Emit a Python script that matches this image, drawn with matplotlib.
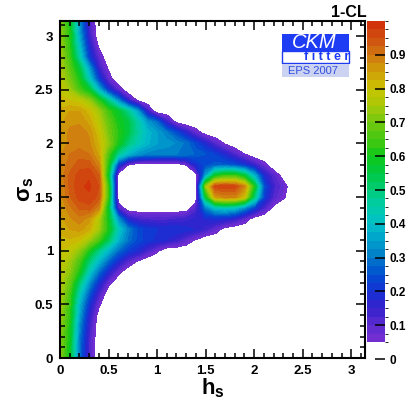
import numpy as np
import matplotlib
matplotlib.use("Agg")
import matplotlib.pyplot as plt
from matplotlib.colors import LinearSegmentedColormap, ListedColormap, BoundaryNorm
from matplotlib.cm import ScalarMappable
from matplotlib.patches import Rectangle
from matplotlib.ticker import MultipleLocator

plt.rcParams['font.family'] = ['Liberation Sans', 'DejaVu Sans']
plt.rcParams['mathtext.fontset'] = 'custom'
plt.rcParams['mathtext.rm'] = 'Liberation Sans'
plt.rcParams['mathtext.bf'] = 'Liberation Sans:bold'
plt.rcParams['mathtext.it'] = 'Liberation Sans:italic'

# sampling grid (h_s columns, sigma_s rows)
h_grid = np.arange(25) / 10.0       # 0.0 .. 2.4
sigma_grid = np.arange(33) / 10.0   # 0.0 .. 3.2

# 1-CL in percent, one row per sigma_s value, trailing zeros omitted
one_minus_cl = [
    [71, 58, 28, 11, 0],                                   # 0.0
    [72, 58, 29, 11, 0],                                   # 0.1
    [72, 59, 30, 12, 0],                                   # 0.2
    [73, 60, 32, 14, 0],                                   # 0.3
    [74, 62, 35, 16, 2],                                   # 0.4
    [75, 63, 38, 20, 6],                                   # 0.5
    [76, 65, 43, 26, 12],                                  # 0.6
    [77, 68, 50, 33, 19, 7],                               # 0.7
    [78, 72, 60, 42, 28, 17, 7],                           # 0.8
    [79, 74, 65, 50, 38, 27, 18, 10, 4],                   # 0.9
    [80, 78, 72, 60, 48, 38, 28, 22, 18, 12, 6],           # 1.0
    [82, 82, 80, 74, 65, 52, 38, 29, 24, 21, 19, 17, 14, 9, 4],          # 1.1
    [83, 85, 86, 83, 74, 60, 42, 31, 24, 21, 20, 20, 20, 19, 17, 13, 8, 2],  # 1.2
    [84, 87, 89, 86, 76, 58, 32, 16, 12, 11, 11, 11, 12, 13, 16, 18, 19, 18, 15, 9, 2],  # 1.3
    [85, 89, 93, 94, 88, 55, 10, 0, 0, 0, 0, 0, 0, 0, 10, 30, 40, 42, 40, 32, 22, 12, 3],  # 1.4
    [86, 92, 96, 97, 94, 62, 0, 0, 0, 0, 0, 0, 0, 0, 0, 55, 85, 88, 88, 80, 50, 22, 11, 6],  # 1.5
    [87, 93, 97, 98, 95, 62, 0, 0, 0, 0, 0, 0, 0, 0, 0, 72, 96, 97, 96, 88, 60, 25, 13, 8],  # 1.6
    [88, 93, 96, 97, 93, 55, 0, 0, 0, 0, 0, 0, 0, 0, 0, 35, 58, 64, 64, 56, 38, 18, 10, 2],  # 1.7
    [88, 91, 94, 94, 88, 60, 20, 5, 0, 0, 0, 0, 0, 5, 18, 24, 26, 26, 24, 20, 14, 7],  # 1.8
    [87, 90, 91, 90, 84, 65, 47, 38, 33, 31, 30, 30, 30, 29, 27, 25, 22, 17, 11, 5],  # 1.9
    [86, 88, 89, 88, 82, 72, 60, 50, 43, 38, 35, 34, 32, 29, 23, 17, 10, 4],  # 2.0
    [85, 88, 89, 87, 80, 70, 62, 55, 46, 39, 35, 30, 24, 16, 8, 2],        # 2.1
    [84, 87, 87, 84, 77, 68, 60, 55, 45, 34, 28, 14, 3],   # 2.2
    [83, 85, 85, 81, 74, 64, 57, 48, 35, 14],              # 2.3
    [81, 80, 78, 73, 62, 48, 32, 15, 4],                   # 2.4
    [79, 74, 65, 57, 38, 20, 9],                           # 2.5
    [77, 70, 60, 42, 22, 8],                               # 2.6
    [76, 67, 55, 35, 14, 4],                               # 2.7
    [75, 64, 45, 22, 9],                                   # 2.8
    [74, 62, 40, 18, 4],                                   # 2.9
    [73, 61, 36, 14],                                      # 3.0
    [72, 60, 33, 12],                                      # 3.1
    [72, 60, 33, 12],                                      # 3.2
]

# palette anchors (ROOT-like rainbow)
palette_values = [0.0, 0.05, 0.1, 0.15, 0.2, 0.25, 0.3, 0.35, 0.4, 0.45, 0.5,
                  0.55, 0.6, 0.65, 0.7, 0.75, 0.8, 0.85, 0.9, 0.95, 1.0]
palette_colors = ['#7a30d2', '#7a30d2', '#5a2ad0', '#3522cc', '#1530d4', '#0050d0',
                  '#0078c8', '#00a0cc', '#00c0c8', '#00ccaa', '#00cc78', '#00c845',
                  '#10c818', '#45c812', '#70c810', '#a8c808', '#c8c400', '#d0a008',
                  '#d07810', '#d05010', '#d42a0a']

grid = np.zeros((len(sigma_grid), len(h_grid)))
for i, row in enumerate(one_minus_cl):
    grid[i, :len(row)] = row
grid = grid / 100.0

rainbow = LinearSegmentedColormap.from_list("ckm", list(zip(palette_values, palette_colors)))
levels = np.arange(0.05, 1.0001, 0.025)
band_colors = [rainbow((a + b) / 2) for a, b in zip(levels[:-1], levels[1:])]
band_cmap = ListedColormap(band_colors)
band_norm = BoundaryNorm(levels, len(band_colors))

fig = plt.figure(figsize=(4.1, 4.01), dpi=100)
ax = fig.add_axes([0.1463, 0.1072, 0.7439, 0.8404])
cax = fig.add_axes([0.8951, 0.1047, 0.0451, 0.8429])

cs = ax.contourf(h_grid, sigma_grid, grid, levels=levels, cmap=band_cmap, norm=band_norm)
cs.set_edgecolor('face')
cs.set_linewidth(0.3)

ax.set_xlim(0, np.pi)
ax.set_ylim(0, np.pi)
for axis in (ax.xaxis, ax.yaxis):
    axis.set_major_locator(MultipleLocator(0.5))
    axis.set_minor_locator(MultipleLocator(0.1))
    axis.set_major_formatter(lambda v, p: f"{v:g}")
ax.tick_params(which='both', direction='in', top=True, right=True, width=1.1,
               labelsize=9.5, pad=5)
ax.tick_params(which='major', length=6.5)
ax.tick_params(which='minor', length=3.5)
for lab in ax.get_xticklabels() + ax.get_yticklabels():
    lab.set_fontweight('bold')
for sp in ax.spines.values():
    sp.set_linewidth(1.5)

ax.set_xlabel(r'$\mathbf{h_s}$', fontsize=16)
ax.xaxis.set_label_coords(0.5, -0.055)
ax.set_ylabel(r'$\mathbf{\sigma_s}$', fontsize=16)
ax.yaxis.set_label_coords(-0.08, 0.5)

# colour scale 0..1, white below 0.05
scale_bounds = np.concatenate([[0.0], levels])
scale_cmap = ListedColormap(['white'] + band_colors)
scale_norm = BoundaryNorm(scale_bounds, len(scale_bounds) - 1)
cbar = fig.colorbar(ScalarMappable(norm=scale_norm, cmap=scale_cmap), cax=cax,
                    spacing='proportional')
cbar.outline.set_visible(False)
cbar.set_ticks([0, 0.1, 0.2, 0.3, 0.4, 0.5, 0.6, 0.7, 0.8, 0.9])
cbar.set_ticklabels(['0', '0.1', '0.2', '0.3', '0.4', '0.5', '0.6', '0.7', '0.8', '0.9'])
cax.tick_params(axis='y', direction='in', length=7, width=1.1, labelsize=8.5, pad=3)
for lab in cax.get_yticklabels():
    lab.set_fontweight('bold')
fig.text(0.893, 0.969, '1-CL', ha='right', va='center', fontsize=11.5, fontweight='bold')

# CKMfitter logo
blue = '#1f3cf5'
fig.add_artist(Rectangle((0.688, 0.873), 0.163, 0.0424, transform=fig.transFigure,
                         facecolor=blue, edgecolor='none', zorder=5))
fig.add_artist(Rectangle((0.688, 0.843), 0.163, 0.030, transform=fig.transFigure,
                         facecolor='white', edgecolor=blue, linewidth=1.0, zorder=5))
fig.add_artist(Rectangle((0.688, 0.808), 0.163, 0.0324, transform=fig.transFigure,
                         facecolor='#ccd2f2', edgecolor='none', zorder=5))
fig.text(0.766, 0.894, 'CKM', ha='center', va='center', color='white',
         fontsize=14.5, style='italic', zorder=6)
fig.text(0.796, 0.858, 'f i t t e r', ha='center', va='center', color=blue,
         fontsize=9, fontweight='bold', zorder=6)
fig.text(0.763, 0.824, 'EPS 2007', ha='center', va='center', color='#3050e0',
         fontsize=8, zorder=6)

fig.savefig('out.png', dpi=100)
